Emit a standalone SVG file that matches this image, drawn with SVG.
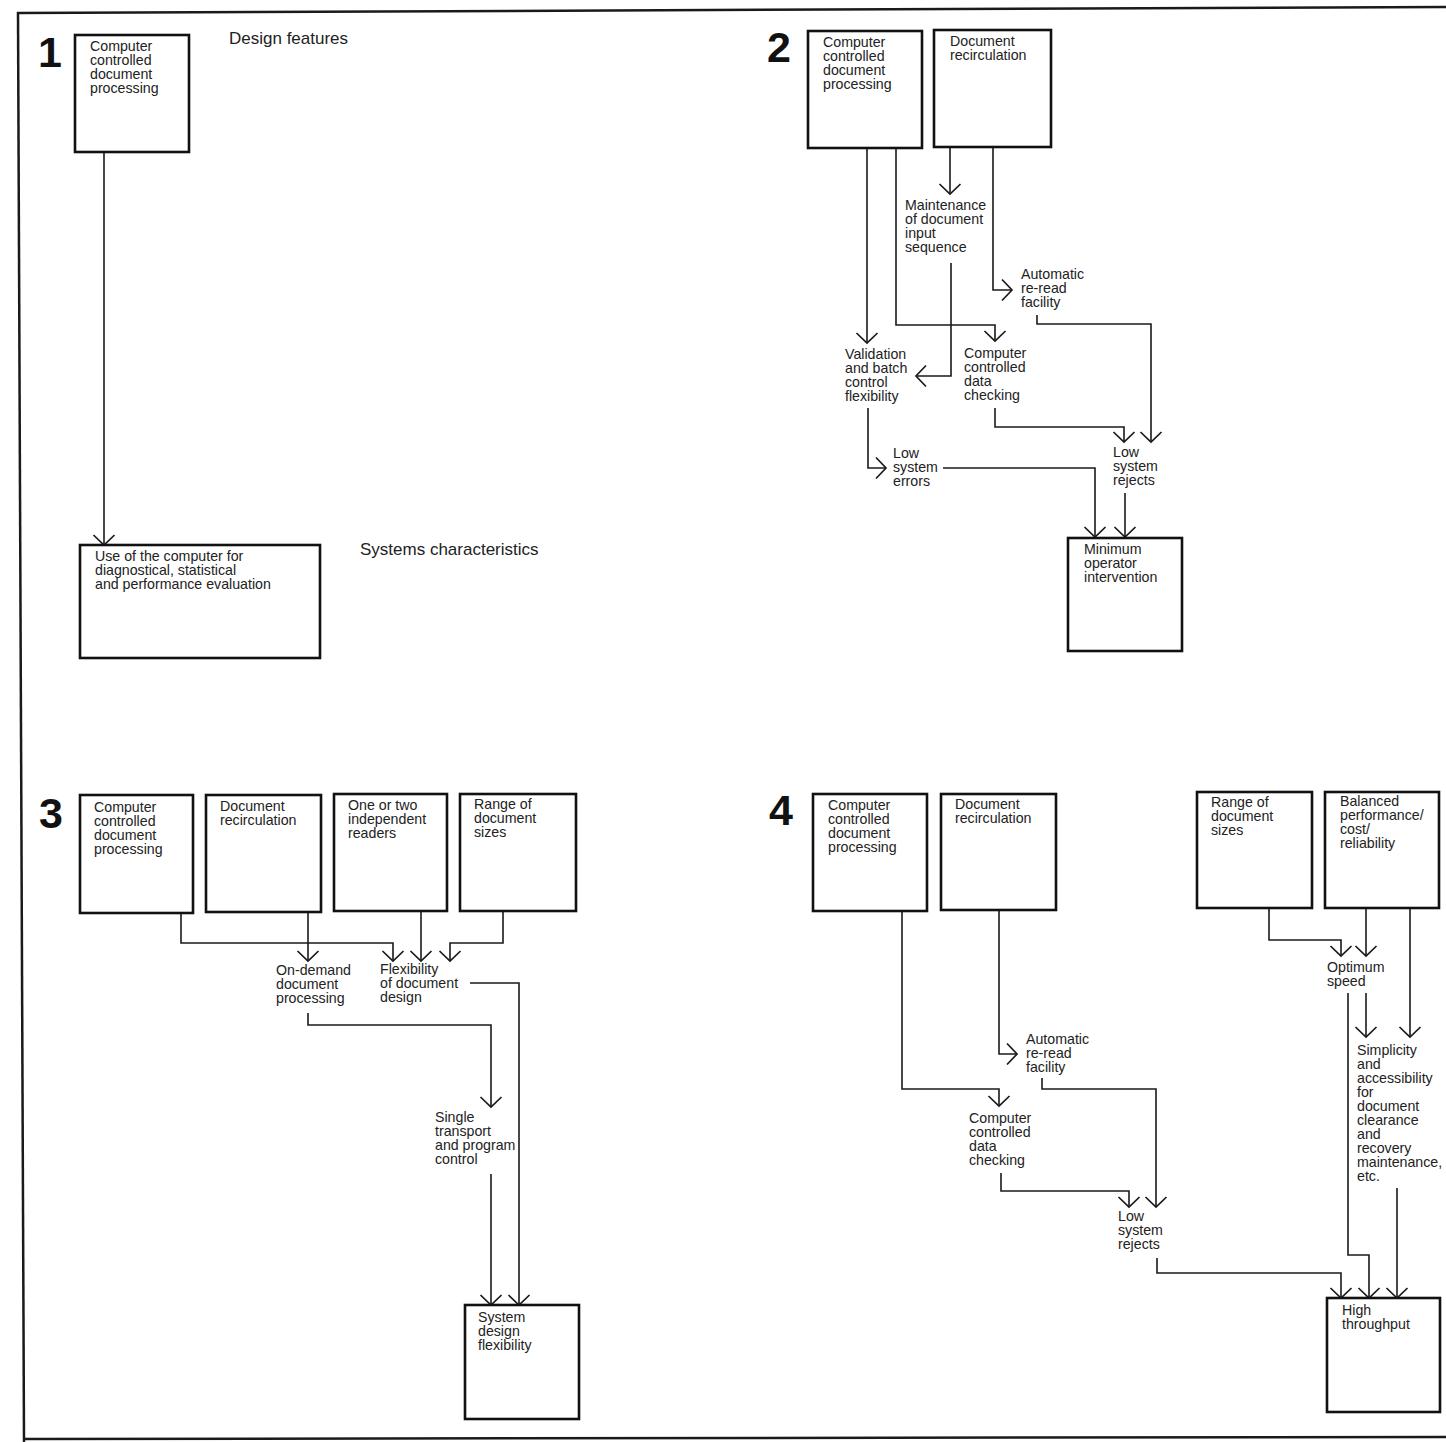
<svg xmlns="http://www.w3.org/2000/svg" width="1446" height="1442" viewBox="0 0 1446 1442">
<style>
.bg{fill:#fff}
.frame{fill:none;stroke:#1a1a1a;stroke-width:2.5}
.box{fill:#fff;stroke:#111;stroke-width:2.6}
.t{font-family:"Liberation Sans",Arial,sans-serif;font-size:14.2px;fill:#222}
.h{font-family:"Liberation Sans",Arial,sans-serif;font-size:17px;fill:#222}
.n{font-family:"Liberation Sans",Arial,sans-serif;font-size:43px;font-weight:bold;fill:#111}
.c{fill:none;stroke:#1a1a1a;stroke-width:1.6;marker-end:url(#ah)}
</style>
<defs>
<marker id="ah" viewBox="-12 -12 24 24" refX="0" refY="0" markerWidth="24" markerHeight="24" orient="auto" markerUnits="userSpaceOnUse">
<path d="M-10,-10.5 L0,0 L-10,10.5" fill="none" stroke="#1a1a1a" stroke-width="1.7"/>
</marker>
</defs>
<rect class="bg" x="0" y="0" width="1446" height="1442"/>
<g id="frame">
<path class="frame" d="M17,13 L1446,7"/>
<path class="frame" d="M18,12 L24,1442"/>
<path class="frame" d="M24,1439 L1446,1437"/>
</g>

<g id="connectors">
<path class="c" d="M104,153 V545"/>
<path class="c" d="M867,148 V343"/>
<path class="c" d="M896,148 V325 H995 V341"/>
<path class="c" d="M950,147 V194"/>
<path class="c" d="M951,263 V376 H916"/>
<path class="c" d="M993,147 V290 H1012"/>
<path class="c" d="M1037,315 V324 H1151 V442"/>
<path class="c" d="M868,408 V468 H886"/>
<path class="c" d="M943,468 H1095 V537"/>
<path class="c" d="M995,408 V427 H1124 V442"/>
<path class="c" d="M1125,493 V537"/>
<path class="c" d="M181,913 V943 H393 V961"/>
<path class="c" d="M308,912 V961"/>
<path class="c" d="M421,911 V961"/>
<path class="c" d="M503,911 V943 H450 V961"/>
<path class="c" d="M470,983 H519 V1305"/>
<path class="c" d="M308,1013 V1025 H491 V1107"/>
<path class="c" d="M491,1174 V1305"/>
<path class="c" d="M902,911 V1089 H999 V1106"/>
<path class="c" d="M999,910 V1054 H1017"/>
<path class="c" d="M1042,1078 V1089 H1156 V1207"/>
<path class="c" d="M1001,1173 V1191 H1129 V1207"/>
<path class="c" d="M1157,1258 V1273 H1341 V1298"/>
<path class="c" d="M1269,908 V940 H1341 V956"/>
<path class="c" d="M1366,908 V956"/>
<path class="c" d="M1410,908 V1037"/>
<path class="c" d="M1366,993 V1037"/>
<path class="c" d="M1348,993 V1255 H1369 V1298"/>
<path class="c" d="M1397,1188 V1298"/>
</g>

<text class="n" x="38" y="67">1</text>
<g id="p1-ccdp">
<rect class="box" x="75" y="35" width="114" height="117"/>
<text class="t" x="90" y="51">Computer</text>
<text class="t" x="90" y="65">controlled</text>
<text class="t" x="90" y="79">document</text>
<text class="t" x="90" y="93">processing</text>
</g>
<text class="h" x="229" y="44">Design features</text>
<g id="p1-use">
<rect class="box" x="80" y="545" width="240" height="113"/>
<text class="t" x="95" y="561">Use of the computer for</text>
<text class="t" x="95" y="575">diagnostical, statistical</text>
<text class="t" x="95" y="589">and performance evaluation</text>
</g>
<text class="h" x="360" y="555">Systems characteristics</text>

<text class="n" x="767" y="62">2</text>
<g id="p2-ccdp">
<rect class="box" x="808" y="31" width="114" height="117"/>
<text class="t" x="823" y="47">Computer</text>
<text class="t" x="823" y="61">controlled</text>
<text class="t" x="823" y="75">document</text>
<text class="t" x="823" y="89">processing</text>
</g>
<g id="p2-recirc">
<rect class="box" x="934" y="30" width="117" height="117"/>
<text class="t" x="950" y="46">Document</text>
<text class="t" x="950" y="60">recirculation</text>
</g>
<g id="p2-maint">
<text class="t" x="905" y="210">Maintenance</text>
<text class="t" x="905" y="224">of document</text>
<text class="t" x="905" y="238">input</text>
<text class="t" x="905" y="252">sequence</text>
</g>
<g id="p2-reread">
<text class="t" x="1021" y="279">Automatic</text>
<text class="t" x="1021" y="293">re-read</text>
<text class="t" x="1021" y="307">facility</text>
</g>
<g id="p2-valid">
<text class="t" x="845" y="359">Validation</text>
<text class="t" x="845" y="373">and batch</text>
<text class="t" x="845" y="387">control</text>
<text class="t" x="845" y="401">flexibility</text>
</g>
<g id="p2-check">
<text class="t" x="964" y="358">Computer</text>
<text class="t" x="964" y="372">controlled</text>
<text class="t" x="964" y="386">data</text>
<text class="t" x="964" y="400">checking</text>
</g>
<g id="p2-errors">
<text class="t" x="893" y="458">Low</text>
<text class="t" x="893" y="472">system</text>
<text class="t" x="893" y="486">errors</text>
</g>
<g id="p2-rejects">
<text class="t" x="1113" y="457">Low</text>
<text class="t" x="1113" y="471">system</text>
<text class="t" x="1113" y="485">rejects</text>
</g>
<g id="p2-min">
<rect class="box" x="1068" y="538" width="114" height="113"/>
<text class="t" x="1084" y="554">Minimum</text>
<text class="t" x="1084" y="568">operator</text>
<text class="t" x="1084" y="582">intervention</text>
</g>

<text class="n" x="39" y="828">3</text>
<g id="p3-ccdp">
<rect class="box" x="80" y="795" width="113" height="118"/>
<text class="t" x="94" y="812">Computer</text>
<text class="t" x="94" y="826">controlled</text>
<text class="t" x="94" y="840">document</text>
<text class="t" x="94" y="854">processing</text>
</g>
<g id="p3-recirc">
<rect class="box" x="206" y="795" width="115" height="117"/>
<text class="t" x="220" y="811">Document</text>
<text class="t" x="220" y="825">recirculation</text>
</g>
<g id="p3-readers">
<rect class="box" x="334" y="794" width="113" height="117"/>
<text class="t" x="348" y="810">One or two</text>
<text class="t" x="348" y="824">independent</text>
<text class="t" x="348" y="838">readers</text>
</g>
<g id="p3-range">
<rect class="box" x="460" y="794" width="116" height="117"/>
<text class="t" x="474" y="809">Range of</text>
<text class="t" x="474" y="823">document</text>
<text class="t" x="474" y="837">sizes</text>
</g>
<g id="p3-ondemand">
<text class="t" x="276" y="975">On-demand</text>
<text class="t" x="276" y="989">document</text>
<text class="t" x="276" y="1003">processing</text>
</g>
<g id="p3-flex">
<text class="t" x="380" y="974">Flexibility</text>
<text class="t" x="380" y="988">of document</text>
<text class="t" x="380" y="1002">design</text>
</g>
<g id="p3-single">
<text class="t" x="435" y="1122">Single</text>
<text class="t" x="435" y="1136">transport</text>
<text class="t" x="435" y="1150">and program</text>
<text class="t" x="435" y="1164">control</text>
</g>
<g id="p3-sysflex">
<rect class="box" x="465" y="1305" width="114" height="114"/>
<text class="t" x="478" y="1322">System</text>
<text class="t" x="478" y="1336">design</text>
<text class="t" x="478" y="1350">flexibility</text>
</g>

<text class="n" x="769" y="825">4</text>
<g id="p4-ccdp">
<rect class="box" x="813" y="794" width="114" height="117"/>
<text class="t" x="828" y="810">Computer</text>
<text class="t" x="828" y="824">controlled</text>
<text class="t" x="828" y="838">document</text>
<text class="t" x="828" y="852">processing</text>
</g>
<g id="p4-recirc">
<rect class="box" x="941" y="794" width="115" height="116"/>
<text class="t" x="955" y="809">Document</text>
<text class="t" x="955" y="823">recirculation</text>
</g>
<g id="p4-range">
<rect class="box" x="1197" y="792" width="115" height="116"/>
<text class="t" x="1211" y="807">Range of</text>
<text class="t" x="1211" y="821">document</text>
<text class="t" x="1211" y="835">sizes</text>
</g>
<g id="p4-balanced">
<rect class="box" x="1325" y="792" width="114" height="116"/>
<text class="t" x="1340" y="806">Balanced</text>
<text class="t" x="1340" y="820">performance/</text>
<text class="t" x="1340" y="834">cost/</text>
<text class="t" x="1340" y="848">reliability</text>
</g>
<g id="p4-reread">
<text class="t" x="1026" y="1044">Automatic</text>
<text class="t" x="1026" y="1058">re-read</text>
<text class="t" x="1026" y="1072">facility</text>
</g>
<g id="p4-check">
<text class="t" x="969" y="1123">Computer</text>
<text class="t" x="969" y="1137">controlled</text>
<text class="t" x="969" y="1151">data</text>
<text class="t" x="969" y="1165">checking</text>
</g>
<g id="p4-rejects">
<text class="t" x="1118" y="1221">Low</text>
<text class="t" x="1118" y="1235">system</text>
<text class="t" x="1118" y="1249">rejects</text>
</g>
<g id="p4-optimum">
<text class="t" x="1327" y="972">Optimum</text>
<text class="t" x="1327" y="986">speed</text>
</g>
<g id="p4-simplicity">
<text class="t" x="1357" y="1055">Simplicity</text>
<text class="t" x="1357" y="1069">and</text>
<text class="t" x="1357" y="1083">accessibility</text>
<text class="t" x="1357" y="1097">for</text>
<text class="t" x="1357" y="1111">document</text>
<text class="t" x="1357" y="1125">clearance</text>
<text class="t" x="1357" y="1139">and</text>
<text class="t" x="1357" y="1153">recovery</text>
<text class="t" x="1357" y="1167">maintenance,</text>
<text class="t" x="1357" y="1181">etc.</text>
</g>
<g id="p4-high">
<rect class="box" x="1327" y="1298" width="113" height="114"/>
<text class="t" x="1342" y="1315">High</text>
<text class="t" x="1342" y="1329">throughput</text>
</g>
</svg>
